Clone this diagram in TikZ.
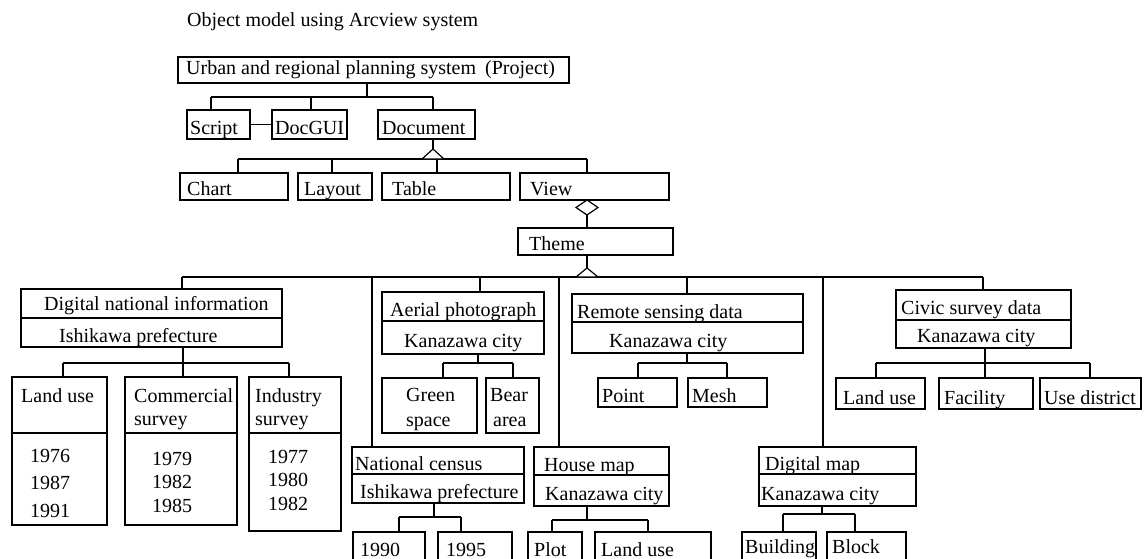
\documentclass[tikz,border=0pt]{standalone}
\usepackage{fontspec}
\setmainfont{Liberation Serif}
\begin{document}
\begin{tikzpicture}[x=1pt,y=-1pt,
  box/.style={draw, line width=1.2pt, rectangle, inner sep=0pt, outer sep=0pt},
  lbl/.style={anchor=base west, inner sep=0pt, font=\fontsize{20}{22}\selectfont},
  wire/.style={line width=1.2pt},
  hollow/.style={draw, line width=1.2pt, fill=white, line join=miter}]
\newcommand\bx[5]{\node[box, minimum width={#4-#2}, minimum height={#5-#3}] (#1) at ({(#2+#4)/2},{(#3+#5)/2}) {};}
\useasboundingbox (0,0) rectangle (1145,559);
\clip (0,0) rectangle (1145,559);

% ---- title
\node[lbl] (title) at (187,27) {Object model using Arcview system};

% ---- project level
\bx{proj}{178}{57}{569}{83}
\node[lbl] (tproj) at (186,75) {Urban and regional planning system\hspace{0.45em}(Project)};
\bx{script}{187}{110}{250}{139}
\bx{docgui}{272}{110}{347}{139}
\bx{doc}{378}{110}{475}{139}
\node[lbl] (tscript) at (190,135) {Script};
\node[lbl] (tdocgui) at (275,135) {DocGUI};
\node[lbl] (tdoc) at (382,135) {Document};

\coordinate (p0) at (367,97);
\coordinate (p1) at (211,97);
\coordinate (p2) at (311,97);
\coordinate (p3) at (433,97);
\draw[wire] (p0 |- proj.south) -- (p0);
\draw[wire] (p1) -- (p3);
\draw[wire] (p1) -- (p1 |- script.north);
\draw[wire] (p2) -- (p2 |- docgui.north);
\draw[wire] (p3) -- (p3 |- doc.north);
\draw[wire] (script.east) -- (docgui.west);

% ---- document level
\bx{chart}{180}{173}{288}{200}
\bx{layout}{298}{173}{372}{200}
\bx{table}{382}{173}{510}{200}
\bx{view}{520}{173}{669}{200}
\node[lbl] (tchart) at (187,195) {Chart};
\node[lbl] (tlayout) at (304,195) {Layout};
\node[lbl] (ttable) at (392,195) {Table};
\node[lbl] (tview) at (530,195) {View};

\coordinate (d0) at (433,149);
\coordinate (d1) at (238,159);
\coordinate (d2) at (332,159);
\coordinate (d3) at (437,159);
\coordinate (d4) at (587,159);
\draw[wire] (d0 |- doc.south) -- (d0);
\draw[wire] (d1) -- (d4);
\draw[wire] (d1) -- (d1 |- chart.north);
\draw[wire] (d2) -- (d2 |- layout.north);
\draw[wire] (d3) -- (d3 |- table.north);
\draw[wire] (d4) -- (d4 |- view.north);
\path[hollow] (d0) -- (444,159) -- (422,159) -- cycle;

% ---- view / theme
\bx{theme}{518}{228}{673}{255}
\node[lbl] (ttheme) at (529,250) {Theme};
\coordinate (v0) at (587,215);
\draw[wire] (v0) -- (v0 |- theme.north);
\path[hollow] (587,200) -- (598,207.5) -- (v0) -- (576,207.5) -- cycle;

\coordinate (t0) at (587,268);
\coordinate (t1) at (182,277);
\coordinate (t2) at (372,277);
\coordinate (t3) at (480,277);
\coordinate (t4) at (559,277);
\coordinate (t5) at (687,277);
\coordinate (t6) at (823,277);
\coordinate (t7) at (983,277);
\draw[wire] (t0 |- theme.south) -- (t0);
\draw[wire] (t1) -- (t7);
\path[hollow] (t0) -- (598,277) -- (576,277) -- cycle;

% ---- digital national information
\bx{dni}{21}{289}{282}{318}
\bx{dnib}{21}{318}{282}{347}
\node[lbl] (tdni) at (44,310) {Digital national information};
\node[lbl] (tdnib) at (59,342) {Ishikawa prefecture};
\draw[wire] (t1) -- (t1 |- dni.north);

\bx{lu}{12}{377}{107}{433}
\bx{lub}{12}{433}{107}{525}
\bx{com}{125}{377}{237}{433}
\bx{comb}{125}{433}{237}{525}
\bx{ind}{249}{377}{341}{433}
\bx{indb}{249}{433}{341}{531}
\node[lbl] (tlu) at (21,402) {Land use};
\node[lbl] (tcom) at (134,402) {Commercial};
\node[lbl] (tcom2) at (134,425) {survey};
\node[lbl] (tind) at (255,402) {Industry};
\node[lbl] (tind2) at (255,425) {survey};
\node[lbl] (y1a) at (30,462) {1976};
\node[lbl] (y1b) at (30,489) {1987};
\node[lbl] (y1c) at (30,517) {1991};
\node[lbl] (y2a) at (152,465) {1979};
\node[lbl] (y2b) at (152,488) {1982};
\node[lbl] (y2c) at (152,512) {1985};
\node[lbl] (y3a) at (268,463) {1977};
\node[lbl] (y3b) at (268,486) {1980};
\node[lbl] (y3c) at (268,510) {1982};

\coordinate (a0) at (183,363);
\coordinate (a1) at (63,363);
\coordinate (a3) at (289,363);
\draw[wire] (a0 |- dnib.south) -- (a0);
\draw[wire] (a1) -- (a3);
\draw[wire] (a1) -- (a1 |- lu.north);
\draw[wire] (a0) -- (a0 |- com.north);
\draw[wire] (a3) -- (a3 |- ind.north);

% ---- aerial photograph
\bx{aer}{382}{292}{544}{321}
\bx{aerb}{382}{321}{544}{354}
\node[lbl] (taer) at (390,316) {Aerial photograph};
\node[lbl] (taerb) at (404,347) {Kanazawa city};
\draw[wire] (t3) -- (t3 |- aer.north);
\bx{green}{382}{378}{477}{433}
\bx{bear}{486}{378}{539}{433}
\node[lbl] (tgreen) at (406,401) {Green};
\node[lbl] (tgreen2) at (406,426) {space};
\node[lbl] (tbear) at (490,401) {Bear};
\node[lbl] (tbear2) at (493,426) {area};
\coordinate (b0) at (478,363);
\coordinate (b1) at (443,363);
\coordinate (b2) at (513,363);
\draw[wire] (b0 |- aerb.south) -- (b0);
\draw[wire] (b1) -- (b2);
\draw[wire] (b1) -- (b1 |- green.north);
\draw[wire] (b2) -- (b2 |- bear.north);

% ---- remote sensing data
\bx{rem}{572}{294}{803}{322}
\bx{remb}{572}{322}{803}{353}
\node[lbl] (trem) at (577,318) {Remote sensing data};
\node[lbl] (tremb) at (609,347) {Kanazawa city};
\draw[wire] (t5) -- (t5 |- rem.north);
\bx{point}{598}{378}{677}{407}
\bx{mesh}{688}{378}{767}{407}
\node[lbl] (tpoint) at (602,402) {Point};
\node[lbl] (tmesh) at (692,402) {Mesh};
\coordinate (r0) at (687,363);
\coordinate (r1) at (638,363);
\coordinate (r2) at (727,363);
\draw[wire] (r0 |- remb.south) -- (r0);
\draw[wire] (r1) -- (r2);
\draw[wire] (r1) -- (r1 |- point.north);
\draw[wire] (r2) -- (r2 |- mesh.north);

% ---- civic survey data
\bx{civ}{896}{290}{1071}{320}
\bx{civb}{896}{320}{1071}{348}
\node[lbl] (tciv) at (901,314) {Civic survey data};
\node[lbl] (tcivb) at (917,342) {Kanazawa city};
\draw[wire] (t7) -- (t7 |- civ.north);
\bx{clu}{836}{378}{925}{409}
\bx{fac}{939}{378}{1033}{409}
\bx{usd}{1040}{378}{1141}{409}
\node[lbl] (tclu) at (843,404) {Land use};
\node[lbl] (tfac) at (944,404) {Facility};
\node[lbl] (tusd) at (1044,404) {Use district};
\coordinate (c0) at (985,363);
\coordinate (c1) at (876,363);
\coordinate (c2) at (1090,363);
\draw[wire] (c0 |- civb.south) -- (c0);
\draw[wire] (c1) -- (c2);
\draw[wire] (c1) -- (c1 |- clu.north);
\draw[wire] (c0) -- (c0 |- fac.north);
\draw[wire] (c2) -- (c2 |- usd.north);

% ---- national census
\bx{nc}{352}{447}{524}{474}
\bx{ncb}{352}{474}{524}{503}
\node[lbl] (tnc) at (355,470) {National census};
\node[lbl] (tncb) at (360,498) {Ishikawa prefecture};
\draw[wire] (t2) -- (t2 |- nc.north);
\bx{y90}{353}{532}{425}{575}
\bx{y95}{438}{532}{512}{575}
\node[lbl] (ty90) at (360,556) {1990};
\node[lbl] (ty95) at (446,556) {1995};
\coordinate (n0) at (434,517);
\coordinate (n1) at (399,517);
\coordinate (n2) at (461,517);
\draw[wire] (n0 |- ncb.south) -- (n0);
\draw[wire] (n1) -- (n2);
\draw[wire] (n1) -- (n1 |- y90.north);
\draw[wire] (n2) -- (n2 |- y95.north);

% ---- house map
\bx{hm}{534}{447}{669}{475}
\bx{hmb}{534}{475}{669}{506}
\node[lbl] (thm) at (544,471) {House map};
\node[lbl] (thmb) at (545,500) {Kanazawa city};
\draw[wire] (t4) -- (t4 |- hm.north);
\bx{plot}{528}{532}{582}{575}
\bx{hlu}{595}{532}{711}{575}
\node[lbl] (tplot) at (534,556) {Plot};
\node[lbl] (thlu) at (601,556) {Land use};
\coordinate (h0) at (587,520);
\coordinate (h1) at (552,520);
\coordinate (h2) at (648,520);
\draw[wire] (h0 |- hmb.south) -- (h0);
\draw[wire] (h1) -- (h2);
\draw[wire] (h1) -- (h1 |- plot.north);
\draw[wire] (h2) -- (h2 |- hlu.north);

% ---- digital map
\bx{dm}{759}{447}{916}{474}
\bx{dmb}{759}{474}{916}{506}
\node[lbl] (tdm) at (765,470) {Digital map};
\node[lbl] (tdmb) at (761,500) {Kanazawa city};
\draw[wire] (t6) -- (t6 |- dm.north);
\bx{bld}{742}{532}{816}{575}
\bx{blk}{827}{532}{906}{575}
\node[lbl] (tbld) at (745,553) {Building};
\node[lbl] (tblk) at (832,553) {Block};
\coordinate (g0) at (822,514);
\coordinate (g1) at (783,514);
\coordinate (g2) at (855,514);
\draw[wire] (g0 |- dmb.south) -- (g0);
\draw[wire] (g1) -- (g2);
\draw[wire] (g1) -- (g1 |- bld.north);
\draw[wire] (g2) -- (g2 |- blk.north);
\end{tikzpicture}
\end{document}
